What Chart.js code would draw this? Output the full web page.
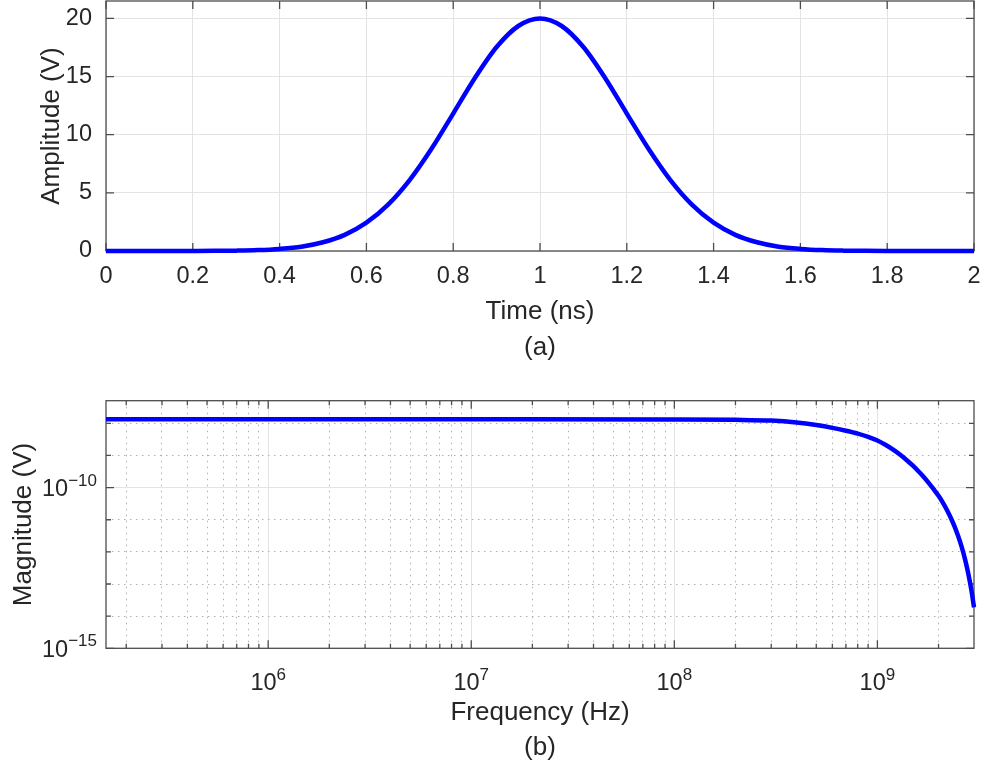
<!DOCTYPE html>
<html>
<head>
<meta charset="utf-8">
<title>Pulse and spectrum</title>
<script src="https://cdn.jsdelivr.net/npm/chart.js@4/dist/chart.umd.min.js"></script>
<style>
  body { margin: 0; background: #fff; }
  .plot { position: absolute; left: 0; width: 982px; }
  #plotA { top: 0; height: 370px; }
  #plotB { top: 370px; height: 399px; }
</style>
</head>
<body>
<div class="plot" id="plotA"><canvas id="pulse"></canvas></div>
<div class="plot" id="plotB"><canvas id="spectrum"></canvas></div>
<script>
// (a) time domain pulse
const timeNs = [0, 0.05, 0.1, 0.15, 0.2, 0.25, 0.3, 0.35, 0.4, 0.45, 0.5, 0.55, 0.6, 0.65, 0.7, 0.75, 0.8, 0.85, 0.9, 0.95,
  1, 1.05, 1.1, 1.15, 1.2, 1.25, 1.3, 1.35, 1.4, 1.45, 1.5, 1.55, 1.6, 1.65, 1.7, 1.75, 1.8, 1.85, 1.9, 1.95, 2]
const amplitudeV = [0, 0, 0, 0.001, 0.004, 0.012, 0.032, 0.077, 0.18, 0.37, 0.75, 1.39, 2.44, 3.99, 6.12, 8.79, 11.82, 14.88, 17.54, 19.35,
  20, 19.35, 17.54, 14.88, 11.82, 8.79, 6.12, 3.99, 2.44, 1.39, 0.75, 0.37, 0.18, 0.077, 0.032, 0.012, 0.004, 0.001, 0, 0, 0]
const timeTicks = [0, 0.2, 0.4, 0.6, 0.8, 1, 1.2, 1.4, 1.6, 1.8, 2]
const ampTicks = [0, 5, 10, 15, 20]
const timeRange = [0, 2]
const ampRange = [0, 21.5]

// (b) magnitude spectrum
const freqHz = [1.59e5, 1e6, 1e7, 1e8, 2e8, 3e8, 4e8, 5e8, 6e8, 7e8, 8e8, 9e8,
  1e9, 1.1e9, 1.2e9, 1.3e9, 1.4e9, 1.5e9, 1.6e9, 1.7e9, 1.8e9, 1.9e9,
  2e9, 2.1e9, 2.2e9, 2.3e9, 2.4e9, 2.5e9, 2.6e9, 2.7e9, 2.8e9, 2.9e9, 2.99e9]
const magnitudeV = [1.334e-8, 1.334e-8, 1.334e-8, 1.321e-8, 1.288e-8, 1.216e-8, 1.059e-8, 8.81e-9, 7.24e-9, 5.89e-9, 4.79e-9, 3.80e-9,
  2.92e-9, 2.11e-9, 1.496e-9, 1.035e-9, 7.0e-10, 4.73e-10, 3.13e-10, 2.07e-10, 1.334e-10, 8.61e-11,
  5.56e-11, 3.43e-11, 2.02e-11, 1.135e-11, 6.10e-12, 3.05e-12, 1.43e-12, 5.96e-13, 2.16e-13, 6.68e-14, 1.88e-14]
const freqMajor = [1e6, 1e7, 1e8, 1e9]
const freqDecades = [1e5, 1e6, 1e7, 1e8, 1e9]
const decadeSteps = [2, 3, 4, 5, 6, 7, 8, 9]
const magMajor = [1e-15, 1e-10]
const magMinor = [1e-14, 1e-13, 1e-12, 1e-11, 1e-9, 1e-8]
const freqRange = [1.59e5, 2.99e9]
const magRange = [1e-15, 5.06e-8]

const FONT = "'Liberation Sans', Arial, Helvetica, sans-serif"
const TEXT = '#262626'
const BOX = '#4d4d4d'
const GRID = '#e3e3e3'
const MINOR = '#b0b0b0'
Chart.defaults.font.family = FONT
Chart.defaults.color = TEXT

const freqMinor = freqDecades
  .flatMap(d => decadeSteps.map(s => s * d))
  .filter(v => v > freqRange[0] && v < freqRange[1])

// fixed axis sizes so the plot boxes land where the figure has them
function fixSize(size) {
  return (scale) => {
    if (scale.isHorizontal()) scale.height = size
    else scale.width = size
    scale.paddingTop = 0
    scale.paddingBottom = 0
    scale.paddingLeft = 0
    scale.paddingRight = 0
  }
}

function setTicks(values) {
  return (scale) => {
    scale.ticks = values.map(v => ({ value: v }))
  }
}

// box with inward ticks on all four sides
function boxPlugin(tickSets) {
  return {
    id: 'box',
    beforeDatasetsDraw(chart) {
      const ctx = chart.ctx
      const a = chart.chartArea
      ctx.save()
      ctx.strokeStyle = BOX
      ctx.lineWidth = 1.3
      for (const t of tickSets) {
        const scale = chart.scales[t.axis]
        for (const v of t.values) {
          const p = scale.getPixelForValue(v)
          ctx.beginPath()
          if (t.axis === 'x') {
            ctx.moveTo(p, a.bottom); ctx.lineTo(p, a.bottom - t.len)
            ctx.moveTo(p, a.top); ctx.lineTo(p, a.top + t.len)
          } else {
            ctx.moveTo(a.left, p); ctx.lineTo(a.left + t.len, p)
            ctx.moveTo(a.right, p); ctx.lineTo(a.right - t.len, p)
          }
          ctx.stroke()
        }
      }
      ctx.strokeRect(a.left, a.top, a.right - a.left, a.bottom - a.top)
      ctx.restore()
    }
  }
}

// 10^n labels for the log axes
function powText(ctx, exp, x, baseline, align) {
  const base = '10'
  const sup = String(exp).replace('-', '\u2212')
  ctx.font = '23.5px ' + FONT
  const wb = ctx.measureText(base).width
  ctx.font = '17px ' + FONT
  const ws = ctx.measureText(sup).width
  let left = align === 'right' ? x - wb - ws : x - (wb + ws) / 2
  ctx.textAlign = 'left'
  ctx.textBaseline = 'alphabetic'
  ctx.font = '23.5px ' + FONT
  ctx.fillText(base, left, baseline)
  ctx.font = '17px ' + FONT
  ctx.fillText(sup, left + wb, baseline - 10.5)
}

const powLabels = {
  id: 'powLabels',
  afterDraw(chart) {
    const ctx = chart.ctx
    const xs = chart.scales.x
    const ys = chart.scales.y
    ctx.save()
    ctx.fillStyle = TEXT
    for (const v of freqMajor) {
      powText(ctx, Math.round(Math.log10(v)), xs.getPixelForValue(v), 320, 'center')
    }
    for (const v of magMajor) {
      powText(ctx, Math.round(Math.log10(v)), 97, ys.getPixelForValue(v) + 8.4, 'right')
    }
    ctx.restore()
  }
}

const tickFont = { size: 23.5 }

// (a)
new Chart(document.getElementById('pulse'), {
  type: 'line',
  data: {
    datasets: [{
      data: timeNs.map((t, i) => ({ x: t, y: amplitudeV[i] })),
      borderColor: '#0000ff',
      borderWidth: 4.5,
      pointRadius: 0,
      cubicInterpolationMode: 'monotone',
      clip: false
    }]
  },
  options: {
    responsive: true,
    maintainAspectRatio: false,
    animation: false,
    devicePixelRatio: 1,
    layout: { autoPadding: false, padding: { top: 1, right: 8, left: 0, bottom: 0 } },
    plugins: { legend: { display: false }, tooltip: { enabled: false } },
    scales: {
      x: {
        type: 'linear', min: timeRange[0], max: timeRange[1],
        afterBuildTicks: setTicks(timeTicks),
        afterFit: fixSize(119),
        grid: { color: GRID, drawTicks: false },
        border: { display: false },
        ticks: { font: tickFont, color: TEXT, padding: 11, autoSkip: false, maxRotation: 0, callback: v => String(v) },
        title: { display: true, text: ['Time (ns)', '(a)'], font: { size: 26, lineHeight: 1.4 }, color: TEXT, padding: { top: 0, bottom: 4 } }
      },
      y: {
        type: 'linear', min: ampRange[0], max: ampRange[1],
        afterBuildTicks: setTicks(ampTicks),
        afterFit: fixSize(106),
        grid: { color: GRID, drawTicks: false },
        border: { display: false },
        ticks: { font: tickFont, color: TEXT, padding: 14, callback: v => String(v) },
        title: { display: true, text: 'Amplitude (V)', font: { size: 26, lineHeight: 1.2 }, color: TEXT, padding: { top: 36, bottom: 0 } }
      }
    }
  },
  plugins: [boxPlugin([
    { axis: 'x', values: timeTicks, len: 8 },
    { axis: 'y', values: ampTicks, len: 8 }
  ])]
})

// (b)
const isFreqMajor = c => c.tick && freqMajor.includes(c.tick.value)
const isMagMajor = c => c.tick && magMajor.includes(c.tick.value)

new Chart(document.getElementById('spectrum'), {
  type: 'line',
  data: {
    datasets: [{
      data: freqHz.map((f, i) => ({ x: f, y: magnitudeV[i] })),
      borderColor: '#0000ff',
      borderWidth: 4.5,
      pointRadius: 0,
      cubicInterpolationMode: 'monotone',
      clip: false
    }]
  },
  options: {
    responsive: true,
    maintainAspectRatio: false,
    animation: false,
    devicePixelRatio: 1,
    layout: { autoPadding: false, padding: { top: 30.7, right: 8, left: 0, bottom: 0 } },
    plugins: { legend: { display: false }, tooltip: { enabled: false } },
    scales: {
      x: {
        type: 'logarithmic', min: freqRange[0], max: freqRange[1],
        afterBuildTicks: setTicks(freqMajor.concat(freqMinor)),
        afterFit: fixSize(120.7),
        grid: { color: c => isFreqMajor(c) ? GRID : MINOR, drawTicks: false },
        border: { display: false, dash: c => (c.tick && !isFreqMajor(c)) ? [1.5, 4.5] : [] },
        ticks: { display: false },
        title: { display: true, text: ['Frequency (Hz)', '(b)'], font: { size: 26, lineHeight: 1.32 }, color: TEXT, padding: { top: 0, bottom: 4.5 } }
      },
      y: {
        type: 'logarithmic', min: magRange[0], max: magRange[1],
        afterBuildTicks: setTicks(magMajor.concat(magMinor)),
        afterFit: fixSize(106),
        grid: { color: c => isMagMajor(c) ? GRID : MINOR, drawTicks: false },
        border: { display: false, dash: c => (c.tick && !isMagMajor(c)) ? [1.5, 4.5] : [] },
        ticks: { display: false },
        title: { display: true, text: 'Magnitude (V)', font: { size: 26, lineHeight: 1.2 }, color: TEXT, padding: { top: 8, bottom: 0 } }
      }
    }
  },
  plugins: [boxPlugin([
    { axis: 'x', values: freqMajor, len: 8 },
    { axis: 'x', values: freqMinor, len: 4.5 },
    { axis: 'y', values: magMajor, len: 8 },
    { axis: 'y', values: magMinor, len: 5 }
  ]), powLabels]
})
</script>
</body>
</html>
